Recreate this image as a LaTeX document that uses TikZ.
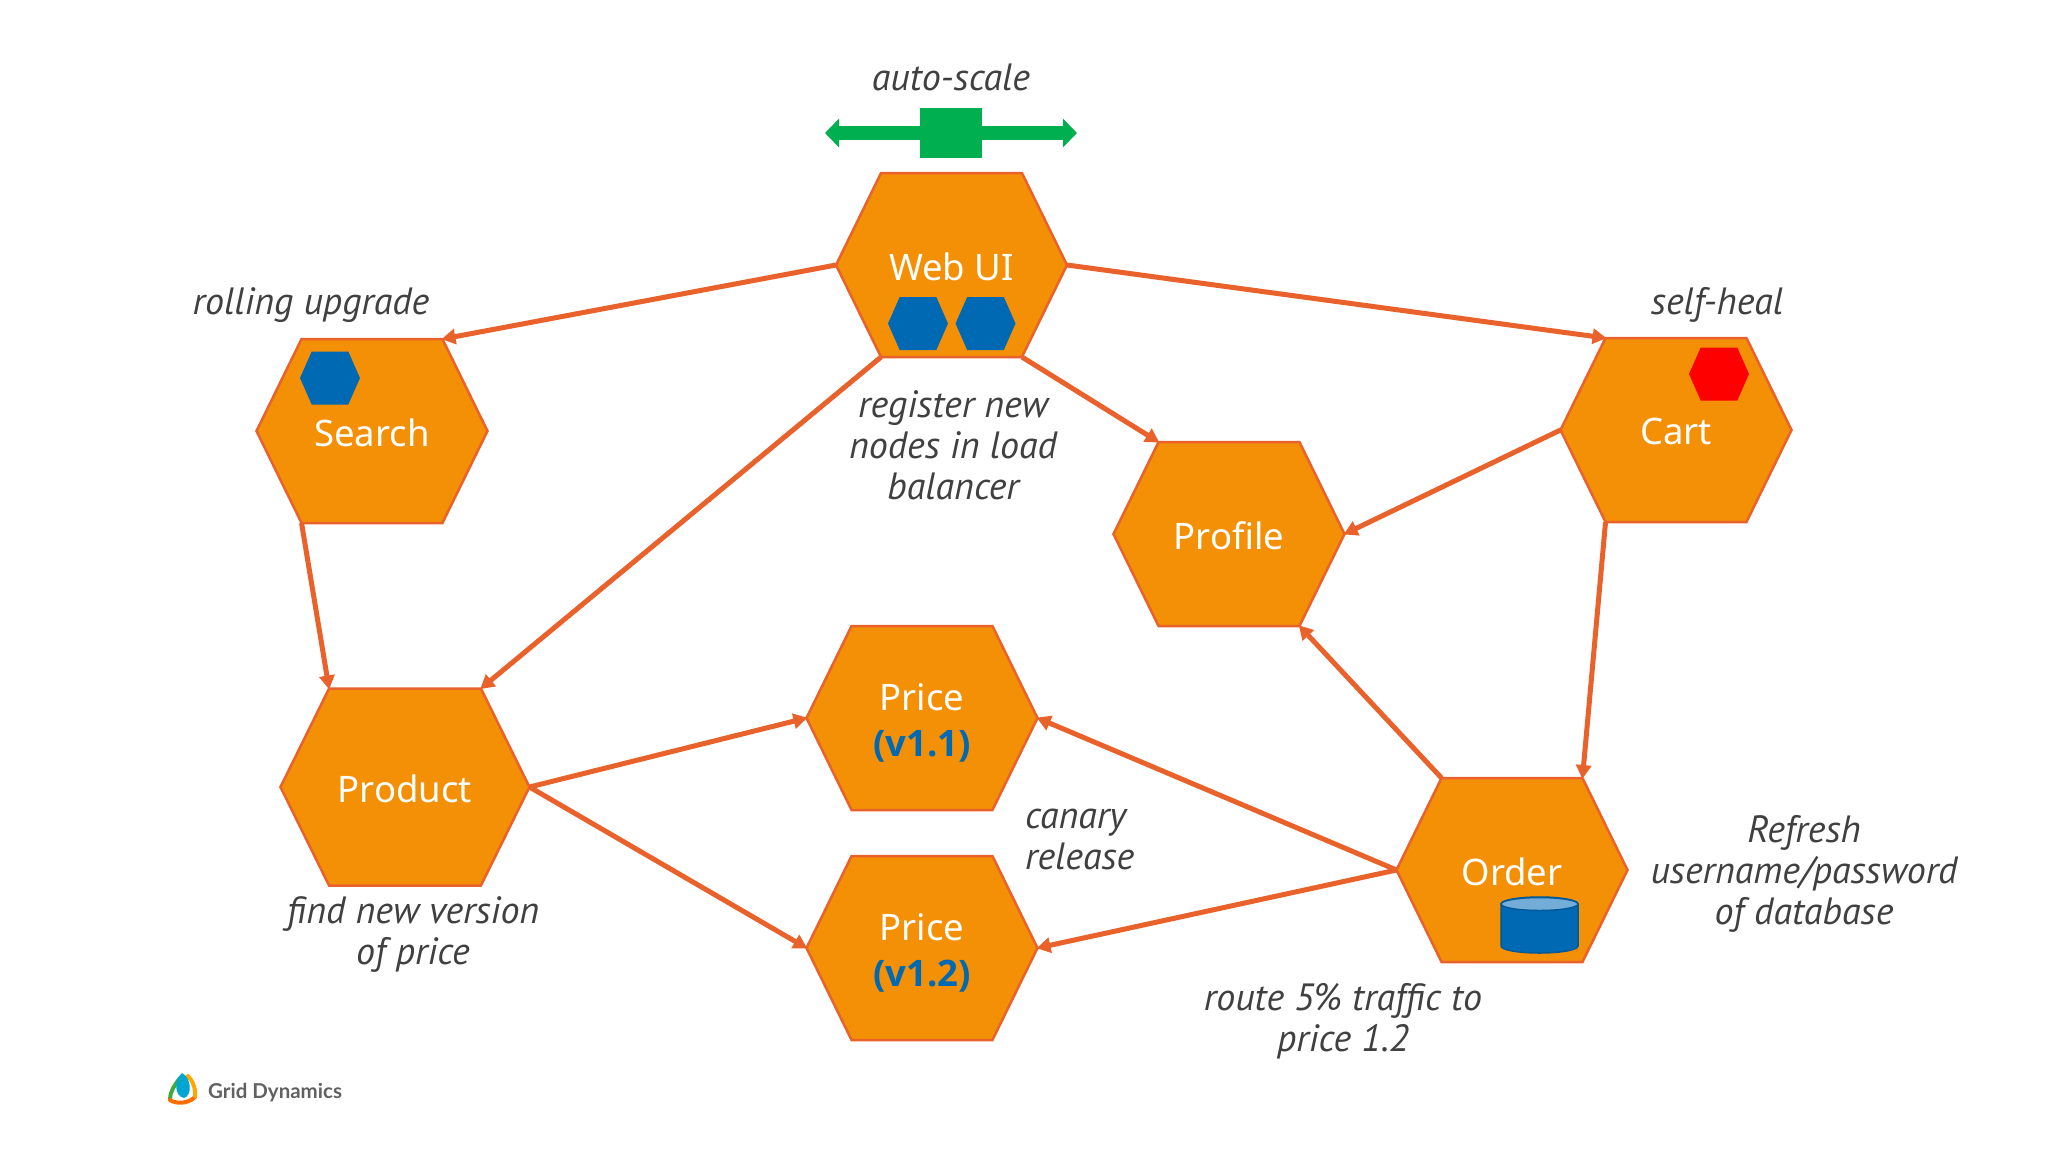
\documentclass[tikz,border=0pt]{standalone}
\usepackage{fontspec}
\setmainfont{Noto Sans}
\newfontfamily\labelfont{PT Sans}
\newfontfamily\logofont{Lato}
\newfontfamily\verfont{Open Sans}
\usetikzlibrary{arrows.meta,calc}
\definecolor{hexfill}{HTML}{F39005}
\definecolor{hexline}{HTML}{E9622B}
\definecolor{myblue}{HTML}{0069B4}
\definecolor{mygreen}{HTML}{00B050}
\definecolor{mytext}{HTML}{404040}
\def\hexdrop{1.5pt}
\makeatletter
\pgfdeclareshape{hexa}{
  \savedanchor\hexcorner{%
    \pgf@x=\pgfshapeminwidth\relax
    \pgf@y=\pgfshapeminheight\relax
    \pgf@x=.5\pgf@x
    \pgf@y=.5\pgf@y}
  \savedanchor\hextext{%
    \pgf@x=-.5\wd\pgfnodeparttextbox
    \pgf@y=-.5\ht\pgfnodeparttextbox
    \advance\pgf@y by .5\dp\pgfnodeparttextbox
    \advance\pgf@y by -\hexdrop\relax}
  \anchor{text}{\hextext}
  \anchor{center}{\pgfpointorigin}
  \anchor{east}{\hexcorner\pgf@y=0pt}
  \anchor{west}{\hexcorner\pgf@x=-\pgf@x\pgf@y=0pt}
  \anchor{north}{\hexcorner\pgf@x=0pt}
  \anchor{south}{\hexcorner\pgf@x=0pt\pgf@y=-\pgf@y}
  \anchor{north east}{\hexcorner\pgf@x=.61\pgf@x}
  \anchor{north west}{\hexcorner\pgf@x=-.61\pgf@x}
  \anchor{south east}{\hexcorner\pgf@x=.61\pgf@x\pgf@y=-\pgf@y}
  \anchor{south west}{\hexcorner\pgf@x=-.61\pgf@x\pgf@y=-\pgf@y}
  \backgroundpath{%
    \hexcorner
    \pgf@xa=\pgf@x \pgf@ya=\pgf@y
    \pgf@xb=.61\pgf@xa
    \pgfpathmoveto{\pgfqpoint{\pgf@xa}{0pt}}%
    \pgfpathlineto{\pgfqpoint{\pgf@xb}{\pgf@ya}}%
    \pgfpathlineto{\pgfqpoint{-\pgf@xb}{\pgf@ya}}%
    \pgfpathlineto{\pgfqpoint{-\pgf@xa}{0pt}}%
    \pgfpathlineto{\pgfqpoint{-\pgf@xb}{-\pgf@ya}}%
    \pgfpathlineto{\pgfqpoint{\pgf@xb}{-\pgf@ya}}%
    \pgfpathclose}
}
\makeatother
\tikzset{
  hexdrop/.code={\def\hexdrop{#1}},
  svc/.style={shape=hexa,fill=hexfill,draw=hexline,line width=2.5pt,
    minimum width=231pt,minimum height=184pt,inner sep=0pt,text=white,align=center,
    font=\fontsize{36.5}{47}\selectfont},
  svcbig/.style={svc,minimum width=249pt,minimum height=197pt},
  svcprice/.style={svc,hexdrop=4.5pt},
  mini/.style={shape=hexa,draw=none,minimum width=60pt,minimum height=53pt,inner sep=0pt},
  link/.style={draw=hexline,line width=5pt,-{Triangle[length=14pt,width=15pt]},shorten >=-1pt},
  note/.style={text=mytext,align=center,inner sep=0pt,
    font=\labelfont\itshape\fontsize{38}{41}\selectfont},
  scalearrow/.style={draw=mygreen,line width=14pt,-{Triangle[length=14pt,width=28pt,sep=0pt]}},
  ring/.style={line width=4pt,line cap=round},
}
\begin{document}
\begin{tikzpicture}[x=1pt,y=-1pt]
\useasboundingbox (0,0) rectangle (2048,1152);
\fill[white] (0,0) rectangle (2048,1152);

% services
\node[svc] (web) at (951.5,265) {Web UI};
\node[svc] (search) at (372,431) {Search};
\node[svc] (cart) at (1676,430) {Cart};
\node[svc] (profile) at (1229,534) {Profile};
\node[svcbig] (product) at (405,787) {Product};
\node[svcprice] (p11) at (922,718) {Price\\[-1pt]{\verfont\bfseries\color{myblue}(v1.1)}};
\node[svcprice] (p12) at (922,948) {Price\\[-1pt]{\verfont\bfseries\color{myblue}(v1.2)}};
\node[svc] (order) at (1512,870) {Order};

% badges
\node[mini,fill=myblue] (m1) at (918,323.5) {};
\node[mini,fill=myblue] (m2) at (985.5,323.5) {};
\node[mini,fill=myblue] (m3) at (330,378) {};
\node[mini,fill=red] (m4) at (1719,374) {};

% database
\path[fill=myblue,draw=myblue!85!black,line width=1.5pt]
  (1501,904) -- (1501,946) arc[start angle=180,end angle=0,x radius=38.5,y radius=7]
  -- (1578,904) arc[start angle=0,end angle=-180,x radius=38.5,y radius=7] -- cycle;
\path[fill=myblue!55!white,draw=myblue!85!black,line width=1.5pt]
  (1539.5,904) ellipse[x radius=38.5,y radius=6.5];

% auto-scale
\node[fill=mygreen,minimum width=62pt,minimum height=50pt,inner sep=0pt] (box) at (951,133) {};
\coordinate (sl) at (825,133);
\coordinate (sr) at (1077,133);
\draw[scalearrow] (box.west) -- (sl);
\draw[scalearrow] (box.east) -- (sr);

% connectors
\draw[link] (web.west) -- (search.north east);
\draw[link] (web.east) -- (cart.north west);
\draw[link] (web.south east) -- (profile.north west);
\draw[link] (web.south west) -- (product.north east);
\draw[link] (search.south west) -- (product.north west);
\draw[link] (cart.west) -- (profile.east);
\draw[link] (cart.south west) -- (order.north east);
\draw[link] (order.north west) -- (profile.south east);
\draw[link] (order.west) -- (p11.east);
\draw[link] (order.west) -- (p12.east);
\draw[link] (product.east) -- (p11.west);
\draw[link] (product.east) -- (p12.west);

% notes
\node[note] (n1) at (951,77) {auto-scale};
\node[note] (n2) at (311,305) {rolling upgrade};
\node[note] (n3) at (1717,305) {self-heal};
\node[note] (n4) at (953,445) {register new\\nodes in load\\balancer};
\node[note,align=left,anchor=west] (n5) at (1025,839) {canary\\release};
\node[note] (n6) at (413,934) {find new version\\of price};
\node[note] (n7) at (1343,1021) {route 5\% traffic to\\price 1.2};
\node[note] (n8) at (1804,874) {Refresh\\username/password\\of database};

% logo
\node[text=black!62,inner sep=0pt,anchor=west,font=\logofont\bfseries\fontsize{20.5}{24}\selectfont] (gd) at (208,1093) {Grid Dynamics};
\draw[ring,draw=green!55!black!75] (180,1078) .. controls (174,1086) and (170,1092) .. (170,1099);
\draw[ring,draw=orange!85!red] (170,1100) .. controls (176,1104) and (188,1104) .. (195,1097);
\draw[ring,draw=orange!70!yellow] (195,1096) .. controls (196,1088) and (192,1080) .. (188,1076);
\path[fill=myblue!60!cyan] (182,1073) .. controls (192,1078) and (192,1096) .. (184,1098) .. controls (174,1096) and (174,1080) .. (182,1073);
\end{tikzpicture}
\end{document}
